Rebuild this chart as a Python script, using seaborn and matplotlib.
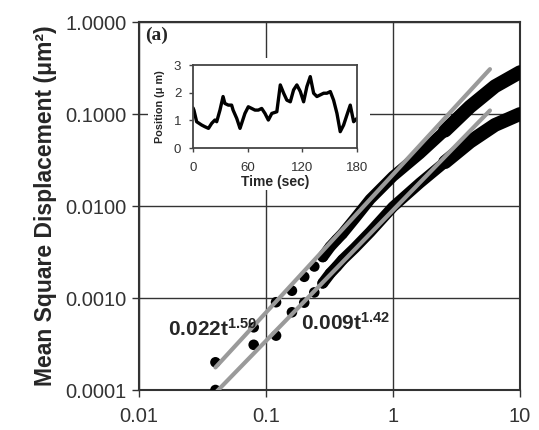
import numpy as np
import pandas as pd
import matplotlib
matplotlib.use("Agg")
import matplotlib.pyplot as plt
from matplotlib.patches import Rectangle
import seaborn as sns

# ---------------- data ----------------
t_upper = [0.04, 0.08, 0.12, 0.16, 0.20, 0.24, 0.28, 0.32, 0.36, 0.40,
           0.50, 0.66, 1.0, 1.63, 2.57, 4.04, 6.35, 10.0]
msd_upper = [2.0e-4, 4.8e-4, 9.0e-4, 1.2e-3, 1.7e-3, 2.2e-3, 2.8e-3, 3.6e-3, 4.3e-3, 5.0e-3,
             7.3e-3, 0.0118, 0.021, 0.037, 0.066, 0.120, 0.200, 0.285]
t_lower = [0.04, 0.08, 0.12, 0.16, 0.20, 0.24, 0.28, 0.32, 0.36, 0.40,
           0.50, 0.66, 1.0, 1.63, 2.57, 4.04, 6.35, 10.0]
msd_lower = [1.0e-4, 3.1e-4, 3.9e-4, 7.0e-4, 8.9e-4, 1.15e-3, 1.45e-3, 1.85e-3, 2.2e-3, 2.6e-3,
             3.5e-3, 5.2e-3, 0.0098, 0.0178, 0.030, 0.050, 0.076, 0.100]

fit_coef = [0.022, 0.009]
fit_exp = [1.50, 1.42]
fit_labels = [r"$\mathbf{0.022t^{1.50}}$", r"$\mathbf{0.009t^{1.42}}$"]
fit_range = [0.04, 5.8]

inset_time = [0, 1, 4, 9.5, 13, 17, 20.5, 24, 26, 29.6, 33, 35, 38.8, 42.4, 44, 48, 51.6,
              53.4, 57, 60.7, 64.4, 68, 71.7, 75.4, 79, 82.7, 86.5, 92, 95.8, 99.5, 103,
              106.8, 110.4, 114, 117.8, 121.4, 125, 128.7, 132.4, 136, 139.7, 143.4, 147,
              150.7, 154.3, 158, 161.6, 165.3, 168.9, 172.6, 176.3, 180]
inset_pos = [1.45, 1.37, 0.95, 0.83, 0.77, 0.71, 0.89, 1.01, 0.95, 1.37, 1.86, 1.61, 1.55,
             1.55, 1.37, 1.07, 0.71, 0.89, 1.25, 1.49, 1.43, 1.37, 1.37, 1.43, 1.25, 1.01,
             1.25, 1.31, 2.28, 1.98, 1.73, 1.67, 2.10, 2.28, 2.04, 1.67, 2.22, 2.58, 1.98,
             1.86, 1.92, 1.98, 1.98, 2.04, 1.73, 1.25, 0.59, 0.83, 1.19, 1.55, 0.95, 1.07]

x_ticks = [0.01, 0.1, 1, 10]
x_ticklabels = ["0.01", "0.1", "1", "10"]
y_ticks = [0.0001, 0.001, 0.01, 0.1, 1]
y_ticklabels = ["0.0001", "0.0010", "0.0100", "0.1000", "1.0000"]

# ---------------- style ----------------
sns.set_style("white")
plt.rcParams["font.family"] = ["Liberation Sans", "DejaVu Sans"]
plt.rcParams["mathtext.fontset"] = "custom"
plt.rcParams["mathtext.rm"] = "Liberation Sans"
plt.rcParams["mathtext.bf"] = "Liberation Sans:bold"
plt.rcParams["mathtext.it"] = "Liberation Sans:italic"

fig = plt.figure(figsize=(5.39, 4.30), dpi=100)
ax = fig.add_axes([139 / 539, 1 - 390 / 430, 381 / 539, 368 / 430])
ax.set_xscale("log")
ax.set_yscale("log")
ax.set_xlim(0.01, 10)
ax.set_ylim(0.0001, 1)

dfu = pd.DataFrame({"t": t_upper, "msd": msd_upper})
dfl = pd.DataFrame({"t": t_lower, "msd": msd_lower})

for df in (dfu, dfl):
    sparse = df[df.t <= 0.41]
    dense = df[df.t >= 0.28]
    thick = df[df.t >= 2.5]
    sns.scatterplot(data=sparse, x="t", y="msd", ax=ax, color="black", s=58,
                    edgecolor="none", zorder=3)
    sns.lineplot(data=dense, x="t", y="msd", ax=ax, color="black", linewidth=8.0,
                 sort=False, estimator=None, zorder=3, solid_capstyle="round")
    sns.lineplot(data=thick, x="t", y="msd", ax=ax, color="black", linewidth=10.0,
                 sort=False, estimator=None, zorder=3, solid_capstyle="round")

for a, b in zip(fit_coef, fit_exp):
    ft = np.array(fit_range)
    sns.lineplot(x=ft, y=a * ft ** b, ax=ax, color="#9a9a9a", linewidth=3.0,
                 estimator=None, sort=False, zorder=4, solid_capstyle="round")

ax.text(0.0168, 0.00046, fit_labels[0], fontsize=15, ha="left", va="center", zorder=5)
ax.text(0.19, 0.00054, fit_labels[1], fontsize=15, ha="left", va="center", zorder=5)
ax.text(0.0111, 0.72, "(a)", fontsize=14, fontweight="bold", family="Liberation Serif",
        ha="left", va="center")

# opaque white area behind the pasted inset (covers grid lines)
ax.add_patch(Rectangle(((148 - 139) / 381, (390 - 190) / 368), (370 - 148) / 381,
                       (190 - 58) / 368, transform=ax.transAxes, facecolor="white",
                       edgecolor="none", zorder=1))

ax.set_xticks(x_ticks)
ax.set_xticklabels(x_ticklabels)
ax.set_yticks(y_ticks)
ax.set_yticklabels(y_ticklabels)
ax.minorticks_off()
ax.tick_params(axis="both", which="major", direction="out", length=5, width=1,
               color="#333333", labelsize=14.5, labelcolor="#333333", pad=4, left=True, bottom=True)
ax.tick_params(axis="x", pad=7)
ax.grid(True, which="major", color="#333333", lw=1.0)
ax.set_axisbelow(True)
for s in ax.spines.values():
    s.set_color("#333333")
    s.set_linewidth(1.5)
ax.set_xlabel("")
ax.set_ylabel("Mean Square Displacement (μm²)", fontsize=16.5, fontweight="bold", labelpad=6)

# ---------------- inset ----------------
ins = fig.add_axes([193 / 539, 1 - 148 / 430, 164 / 539, 83 / 430], zorder=5)
ins.set_facecolor("white")
sns.lineplot(x=inset_time, y=inset_pos, ax=ins, color="black", linewidth=2.4,
             estimator=None, sort=False)
ins.set_xlim(0, 180)
ins.set_ylim(0, 3)
ins.set_xticks([0, 60, 120, 180])
ins.set_yticks([0, 1, 2, 3])
ins.tick_params(axis="both", direction="out", length=3, width=1, color="#444444",
                labelsize=9.5, labelcolor="#333333", pad=5.5, left=True, bottom=True)
ins.tick_params(axis="x", pad=7)
for s in ins.spines.values():
    s.set_color("#444444")
    s.set_linewidth(1.3)
ins.set_xlabel("Time (sec)", fontsize=10, fontweight="bold", labelpad=1)
ins.set_ylabel("Position (μ m)", fontsize=7.8, fontweight="bold", labelpad=6)

fig.savefig("out.png", dpi=100, facecolor="white")
